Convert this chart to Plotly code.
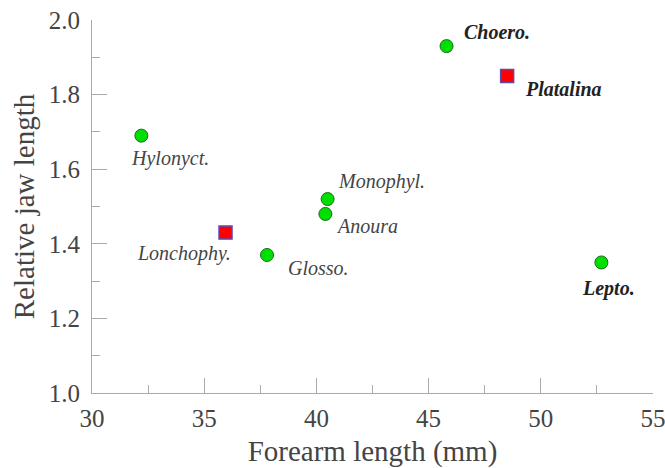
import plotly.graph_objects as go

# Data
green_names = ["Hylonyct.", "Glosso.", "Monophyl.", "Anoura", "Choero.", "Lepto."]
green_forearm = [32.2, 37.8, 40.5, 40.4, 45.8, 52.7]
green_jaw = [1.69, 1.37, 1.52, 1.48, 1.93, 1.35]

red_names = ["Lonchophy.", "Platalina"]
red_forearm = [35.95, 48.5]
red_jaw = [1.43, 1.85]

bold_names = {"Choero.", "Platalina", "Lepto."}

x_ticks = [30, 35, 40, 45, 50, 55]
y_ticks = [1.0, 1.2, 1.4, 1.6, 1.8, 2.0]

# Label offsets (pixels) - styling
label_offsets = {
    "Hylonyct.": (29, -23),
    "Lonchophy.": (-42, -21),
    "Glosso.": (51, -13),
    "Monophyl.": (54, 18),
    "Anoura": (42, -12),
    "Choero.": (50, 14),
    "Platalina": (56, -13),
    "Lepto.": (7, -26),
}

FONT = "Liberation Serif"

fig = go.Figure()
fig.add_trace(go.Scatter(
    x=green_forearm, y=green_jaw, mode="markers",
    marker=dict(symbol="circle", size=13, color="#00e000",
                line=dict(color="#1a6a1a", width=1)),
    showlegend=False, hoverinfo="skip"))
fig.add_trace(go.Scatter(
    x=red_forearm, y=red_jaw, mode="markers",
    marker=dict(symbol="square", size=13, color="#ff0000",
                line=dict(color="#5a4ab0", width=1.5)),
    showlegend=False, hoverinfo="skip"))

for names, xs, ys in [(green_names, green_forearm, green_jaw),
                      (red_names, red_forearm, red_jaw)]:
    for n, xv, yv in zip(names, xs, ys):
        dx, dy = label_offsets[n]
        bold = n in bold_names
        fig.add_annotation(
            x=xv, y=yv, text=("<b><i>%s</i></b>" if bold else "<i>%s</i>") % n,
            showarrow=False, xshift=dx, yshift=dy,
            xanchor="center", yanchor="middle",
            font=dict(family=FONT, size=20, color="#222" if bold else "#444"))

axis_common = dict(
    showgrid=False, zeroline=False, showline=True,
    linecolor="#aaaaaa", linewidth=1,
    ticks="inside", ticklen=15, tickcolor="#aaaaaa", tickwidth=1,
    tickfont=dict(family=FONT, size=25, color="#444"),
    ticklabeloverflow="allow",
)

fig.update_xaxes(range=[30, 55], tickvals=x_ticks,
                 ticktext=[str(v) for v in x_ticks],
                 ticklabelstandoff=3,
                 minor=dict(dtick=2.5, tick0=30, ticks="inside", ticklen=8, tickcolor="#aaaaaa"),
                 title=dict(text="Forearm length (mm)", font=dict(family=FONT, size=29, color="#444"),
                            standoff=14),
                 **axis_common)
fig.update_yaxes(range=[1.0, 2.0], tickvals=y_ticks,
                 ticktext=["%.1f" % v for v in y_ticks],
                 ticklabelstandoff=6,
                 minor=dict(dtick=0.1, tick0=1.0, ticks="inside", ticklen=8, tickcolor="#aaaaaa"),
                 title=dict(text="Relative jaw length", font=dict(family=FONT, size=29, color="#444"),
                            standoff=5),
                 **axis_common)

fig.update_layout(
    width=665, height=468,
    margin=dict(l=92, r=12, t=20, b=75, autoexpand=False),
    plot_bgcolor="white", paper_bgcolor="white",
)

# Remove the browser's default body margin so the figure fills the window exactly
fig.write_html("out.html", config={"displayModeBar": False},
               post_script="document.body.style.margin='0px';document.body.style.overflow='hidden';")
